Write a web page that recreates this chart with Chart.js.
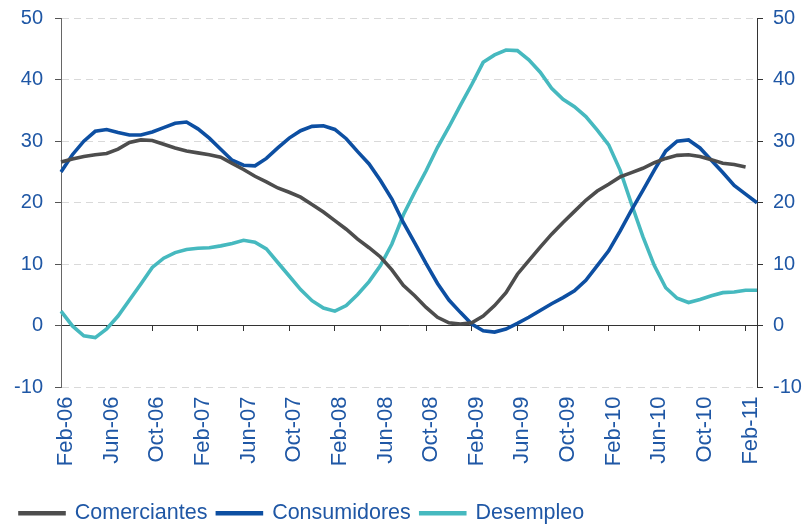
<!DOCTYPE html>
<html>
<head>
<meta charset="utf-8">
<script src="https://cdn.jsdelivr.net/npm/chart.js@4/dist/chart.umd.min.js"></script>
<style>
  html, body { margin: 0; padding: 0; background: #fff; }
</style>
</head>
<body>
<canvas id="indices" width="804" height="524"></canvas>
<script>
// Categories: monthly, Feb-06 .. Mar-11
const months = [
  "Feb-06", "Mar-06", "Abr-06", "May-06", "Jun-06", "Jul-06", "Ago-06", "Sep-06", "Oct-06", "Nov-06", "Dic-06",
  "Ene-07", "Feb-07", "Mar-07", "Abr-07", "May-07", "Jun-07", "Jul-07", "Ago-07", "Sep-07", "Oct-07", "Nov-07", "Dic-07",
  "Ene-08", "Feb-08", "Mar-08", "Abr-08", "May-08", "Jun-08", "Jul-08", "Ago-08", "Sep-08", "Oct-08", "Nov-08", "Dic-08",
  "Ene-09", "Feb-09", "Mar-09", "Abr-09", "May-09", "Jun-09", "Jul-09", "Ago-09", "Sep-09", "Oct-09", "Nov-09", "Dic-09",
  "Ene-10", "Feb-10", "Mar-10", "Abr-10", "May-10", "Jun-10", "Jul-10", "Ago-10", "Sep-10", "Oct-10", "Nov-10", "Dic-10",
  "Ene-11", "Feb-11", "Mar-11"
];

const comerciantes = [
  26.6, 27.1, 27.5, 27.8, 28.0, 28.7, 29.8, 30.2, 30.1, 29.5, 28.9,
  28.4, 28.1, 27.8, 27.4, 26.4, 25.4, 24.3, 23.4, 22.4, 21.7, 20.9, 19.7,
  18.5, 17.1, 15.7, 14.1, 12.7, 11.2, 9.1, 6.6, 4.9, 3.0, 1.4, 0.5,
  0.3, 0.5, 1.6, 3.3, 5.4, 8.4, 10.6, 12.8, 14.9, 16.8, 18.6, 20.4,
  21.9, 23.0, 24.2, 24.9, 25.6, 26.5, 27.2, 27.7, 27.8, 27.5, 27.0, 26.4,
  26.2, 25.8
];

const consumidores = [
  25.0, 27.8, 30.0, 31.6, 31.9, 31.4, 31.0, 31.0, 31.5, 32.2, 32.9,
  33.1, 32.0, 30.5, 28.7, 26.9, 26.1, 26.0, 27.2, 28.9, 30.5, 31.7, 32.4,
  32.5, 31.9, 30.4, 28.3, 26.3, 23.6, 20.6, 16.8, 13.5, 10.1, 6.9, 4.2,
  2.2, 0.3, -0.8, -1.0, -0.5, 0.4, 1.4, 2.5, 3.6, 4.6, 5.7, 7.4,
  9.8, 12.2, 15.4, 18.8, 22.0, 25.3, 28.4, 30.0, 30.2, 28.9, 26.9, 24.9,
  22.8, 21.4, 20.0
];

const desempleo = [
  2.4, 0.0, -1.6, -1.9, -0.5, 1.6, 4.2, 6.8, 9.5, 11.0, 11.9,
  12.4, 12.6, 12.7, 13.0, 13.4, 13.9, 13.6, 12.5, 10.3, 8.1, 5.9, 4.1,
  2.9, 2.4, 3.3, 5.1, 7.2, 9.8, 13.3, 18.0, 21.7, 25.2, 29.0, 32.3,
  35.8, 39.2, 42.8, 44.0, 44.8, 44.7, 43.2, 41.2, 38.6, 36.8, 35.6, 34.0,
  31.8, 29.4, 25.3, 19.8, 14.5, 9.8, 6.2, 4.5, 3.8, 4.3, 4.9, 5.4,
  5.5, 5.8, 5.8
];

const yMin = -10;
const yMax = 50;
const yStep = 10;

const textBlue = "#1f57a5";
Chart.defaults.font.family = "'Liberation Sans', Arial, sans-serif";
Chart.defaults.color = textBlue;

// fixed axis widths, no extra vertical padding from the tick labels
function fitY(width) {
  return function (scale) {
    scale.width = width;
    scale.paddingTop = 0;
    scale.paddingBottom = 0;
  };
}

new Chart(document.getElementById("indices"), {
  type: "line",
  data: {
    labels: months,
    datasets: [
      {
        label: "Comerciantes",
        data: comerciantes,
        borderColor: "#4d4d4d",
        backgroundColor: "#4d4d4d"
      },
      {
        label: "Consumidores",
        data: consumidores,
        borderColor: "#0d4fa2",
        backgroundColor: "#0d4fa2"
      },
      {
        label: "Desempleo",
        data: desempleo,
        borderColor: "#46b9bf",
        backgroundColor: "#46b9bf"
      }
    ]
  },
  options: {
    responsive: false,
    animation: false,
    layout: {
      padding: { left: 10, top: 18, right: 0, bottom: -10 }
    },
    elements: {
      point: { radius: 0 },
      line: { borderWidth: 3.6, tension: 0 }
    },
    plugins: {
      legend: {
        position: "bottom",
        align: "start",
        labels: {
          color: textBlue,
          font: { size: 21.5 },
          boxWidth: 44,
          boxHeight: 1,
          padding: 10
        }
      },
      tooltip: { enabled: false }
    },
    scales: {
      x: {
        offset: false,
        grid: { display: false, drawTicks: false },
        border: { display: false },
        ticks: {
          autoSkip: false,
          minRotation: 90,
          maxRotation: 90,
          padding: 9,
          labelOffset: 5,
          color: textBlue,
          font: { size: 22 },
          callback: function (value, index) {
            return index % 4 === 0 ? this.getLabelForValue(value) : "";
          }
        },
        afterFit: function (scale) { scale.height = 105; }
      },
      // zero line with its tick marks
      x2: {
        position: { y: 0 },
        offset: false,
        ticks: { display: false, autoSkip: false },
        grid: {
          drawOnChartArea: false,
          tickLength: 5,
          tickWidth: 1,
          tickColor: function (ctx) { return ctx.index % 4 === 0 ? "#333333" : "rgba(0,0,0,0)"; }
        },
        border: { color: "#333333", width: 1 }
      },
      y: {
        position: "left",
        min: yMin,
        max: yMax,
        ticks: { stepSize: yStep, padding: 12, color: textBlue, font: { size: 20 } },
        grid: { color: "#d9d9d9", tickColor: "#555555", tickLength: 6, tickBorderDash: [] },
        border: { color: "#666666", dash: [7, 5] },
        afterFit: fitY(51)
      },
      y2: {
        position: "right",
        min: yMin,
        max: yMax,
        ticks: { stepSize: yStep, padding: 10, color: textBlue, font: { size: 20 } },
        grid: { drawOnChartArea: false, tickColor: "#333333", tickLength: 6 },
        border: { color: "#333333" },
        afterFit: fitY(47)
      }
    }
  }
});
</script>
</body>
</html>
